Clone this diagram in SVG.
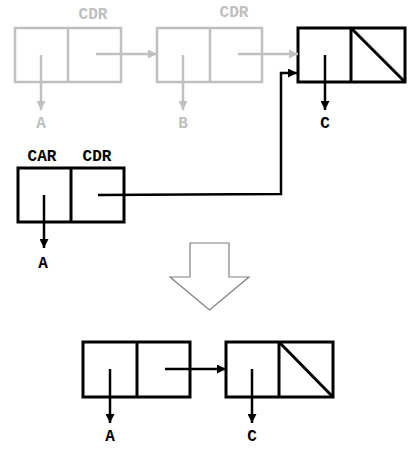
<svg xmlns="http://www.w3.org/2000/svg" width="420" height="460" viewBox="0 0 420 460">
<defs>
<marker id="ab" viewBox="0 0 10 10" refX="10" refY="5" markerWidth="9" markerHeight="9" markerUnits="userSpaceOnUse" orient="auto"><path d="M0,0 L10,5 L0,10 z" fill="#000"/></marker>
<marker id="ag" viewBox="0 0 10 10" refX="10" refY="5" markerWidth="9" markerHeight="9" markerUnits="userSpaceOnUse" orient="auto"><path d="M0,0 L10,5 L0,10 z" fill="#c0c0c0"/></marker>
</defs>
<style>
.bx{fill:#fff;stroke:#000;stroke-width:3}
.gbx{fill:#fff;stroke:#c0c0c0;stroke-width:2.5}
.lk{fill:none;stroke:#000;stroke-width:2.5;marker-end:url(#ab)}
.glk{fill:none;stroke:#c0c0c0;stroke-width:2.5;marker-end:url(#ag)}
.t{font-family:"Courier New","Liberation Mono",monospace;font-weight:bold;font-size:16px;text-anchor:middle;fill:#000}
.gt{fill:#c0c0c0}
</style>
<rect width="420" height="460" fill="#fff"/>
<g id="cellA">
<rect class="gbx" x="15" y="28" width="106" height="54"/>
<line class="gbx" x1="68" y1="28" x2="68" y2="82"/>
<text class="t gt" x="93" y="19">CDR</text>
<text class="t gt" x="41" y="128">A</text>
</g>
<g id="cellB">
<rect class="gbx" x="157" y="28" width="105" height="54"/>
<line class="gbx" x1="210" y1="28" x2="210" y2="82"/>
<text class="t gt" x="234" y="17">CDR</text>
<text class="t gt" x="183" y="128">B</text>
</g>
<g id="cellC">
<rect class="bx" x="298" y="28" width="107" height="54"/>
<line class="bx" x1="351" y1="28" x2="351" y2="82"/>
<line class="bx" x1="351" y1="28" x2="405" y2="82"/>
<text class="t" x="325" y="128">C</text>
</g>
<g id="cellNew">
<rect class="bx" x="18" y="168" width="106" height="54"/>
<line class="bx" x1="71" y1="168" x2="71" y2="222"/>
<text class="t" x="42" y="161">CAR</text>
<text class="t" x="97" y="161">CDR</text>
<text class="t" x="43" y="268">A</text>
</g>
<g id="transform">
<path d="M190,243 H229 V277 H249 L209.5,310 L170,277 H190 Z" fill="#fff" stroke="#808080" stroke-width="1.2"/>
</g>
<g id="resA">
<rect class="bx" x="83" y="342" width="107" height="55"/>
<line class="bx" x1="137" y1="342" x2="137" y2="397"/>
<text class="t" x="110" y="441">A</text>
</g>
<g id="resC">
<rect class="bx" x="226" y="342" width="107" height="55"/>
<line class="bx" x1="279" y1="342" x2="279" y2="397"/>
<line class="bx" x1="279" y1="342" x2="333" y2="397"/>
<text class="t" x="252" y="441">C</text>
</g>
<g id="connectors">
<path class="glk" d="M41,55 V110"/>
<path class="glk" d="M96,54 H157"/>
<path class="glk" d="M183,55 V110"/>
<path class="glk" d="M238,54 H298"/>
<path class="lk" d="M325,55 V110"/>
<path class="lk" d="M44,195 V248"/>
<path class="lk" d="M98,195 L281,194 V73 H297"/>
<path class="lk" d="M110,369 V423"/>
<path class="lk" d="M165,369 H226"/>
<path class="lk" d="M252,369 V423"/>
</g>
</svg>
